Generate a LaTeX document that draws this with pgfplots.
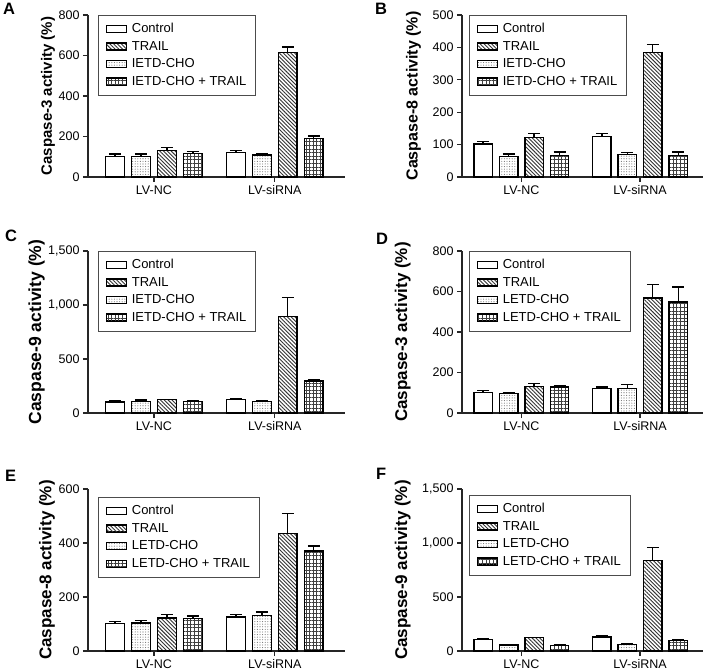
\documentclass[border=0pt]{standalone}
\usepackage{fontspec}
\setmainfont{Liberation Sans}
\usepackage{pgfplots}
\pgfplotsset{compat=1.18}
\usetikzlibrary{patterns.meta}

% bars sit at group centre 0 (LV-NC) and 1 (LV-siRNA) plus a fixed offset per treatment
\pgfplotsset{
  panel/.style={
    scale only axis, height=162pt, ymin=0, clip=false,
    axis x line*=bottom, axis y line*=left,
    axis line style={line width=1.2pt, black!85},
    tick style={line width=1.2pt, black!85},
    tick align=outside, major tick length=5pt,
    xtick={0,1}, xticklabels={LV-NC,LV-siRNA},
    tick label style={font=\fontsize{12.5}{14}\selectfont},
    /pgf/number format/assume math mode=true,
    /pgf/number format/1000 sep={,},
    scaled y ticks=false,
    ylabel style={anchor=south, inner sep=0pt},
    legend cell align=left,
    legend style={anchor=north west, draw=black!70, line width=0.8pt,
      font=\fontsize{13}{15}\selectfont, inner xsep=7pt, inner ysep=6pt, row sep=3pt,
      /tikz/every odd column/.append style={column sep=3pt}},
  },
  leftcol/.style={panel, width=257pt, xmin=-0.545, xmax=1.58},
  rightcol/.style={panel, width=241pt, xmin=-0.5, xmax=1.53},
  ylab/.style 2 args={ylabel style={font=\bfseries\fontsize{#1}{#1}\selectfont,
    at={(axis description cs:#2,0.5)}}},
  boxlegend/.style={legend image code/.code={%
    \draw[##1, line width=1.2pt] (0pt,-3.5pt) rectangle (20pt,3.5pt);}},
  cbar/.style={ybar, bar width=0.155, bar shift=0pt, draw=black, line width=1.4pt, boxlegend,
    /pgfplots/error bars/y dir=plus, /pgfplots/error bars/y explicit,
    /pgfplots/error bars/error bar style={line width=1.3pt, black},
    /pgfplots/error bars/error mark options={rotate=90, mark size=6pt, line width=1.3pt, black}},
  sctl/.style={cbar, fill=white},
  strail/.style={cbar, preaction={fill=white}, pattern color=black!80,
    pattern={Lines[angle=-45,distance=2.7pt,line width=0.9pt]}},
  sinh/.style={cbar, preaction={fill=white}, pattern color=black!55,
    pattern={Dots[distance=2.6pt,radius=0.55pt]}},
  scombo/.style={cbar, preaction={fill=white}, pattern color=black!75,
    pattern={Hatch[angle=0,distance=3.6pt,line width=0.7pt]}},
}

\begin{document}
\begin{tikzpicture}
\useasboundingbox (0,0) rectangle (705pt,-671pt);

% A
\begin{axis}[leftcol, at={(88pt,-177pt)}, anchor=south west,
  ymax=800, ytick={0,200,400,600,800},
  ylabel={Caspase-3 activity (\%)}, ylab={15}{-0.128},
  legend style={at={(axis description cs:0.04,1)}}]
\addplot[sctl] coordinates {(-0.322,102) +- (0,11) (0.678,121) +- (0,10)};
\addplot[strail] coordinates {(0.107,131) +- (0,15) (1.107,616) +- (0,26)};
\addplot[sinh] coordinates {(-0.107,102) +- (0,11) (0.893,108) +- (0,7)};
\addplot[scombo] coordinates {(0.322,115) +- (0,11) (1.322,189) +- (0,13)};
\legend{Control,TRAIL,IETD-CHO,IETD-CHO + TRAIL}
\end{axis}

% B
\begin{axis}[rightcol, at={(462pt,-177pt)}, anchor=south west,
  ymax=500, ytick={0,100,200,300,400,500},
  ylabel={Caspase-8 activity (\%)}, ylab={16}{-0.170},
  legend style={at={(axis description cs:0.03,1)}}]
\addplot[sctl] coordinates {(-0.322,102) +- (0,7) (0.678,125) +- (0,10)};
\addplot[strail] coordinates {(0.107,122) +- (0,13) (1.107,384) +- (0,26)};
\addplot[sinh] coordinates {(-0.107,64) +- (0,7) (0.893,69) +- (0,7)};
\addplot[scombo] coordinates {(0.322,66) +- (0,11) (1.322,67) +- (0,10)};
\legend{Control,TRAIL,IETD-CHO,IETD-CHO + TRAIL}
\end{axis}

% C
\begin{axis}[leftcol, at={(88pt,-413pt)}, anchor=south west,
  ymax=1500, ytick={0,500,1000,1500},
  ylabel={Caspase-9 activity (\%)}, ylab={17.5}{-0.167},
  legend style={at={(axis description cs:0.04,1)}}]
\addplot[sctl] coordinates {(-0.322,101) +- (0,16) (0.678,123) +- (0,9)};
\addplot[strail] coordinates {(0.107,123) +- (0,3) (1.107,891) +- (0,176)};
\addplot[sinh] coordinates {(-0.107,108) +- (0,12) (0.893,108) +- (0,6)};
\addplot[scombo] coordinates {(0.322,105) +- (0,9) (1.322,298) +- (0,10)};
\legend{Control,TRAIL,IETD-CHO,IETD-CHO + TRAIL}
\end{axis}

% D
\begin{axis}[rightcol, at={(462pt,-413pt)}, anchor=south west,
  ymax=800, ytick={0,200,400,600,800},
  ylabel={Caspase-3 activity (\%)}, ylab={17}{-0.212},
  legend style={at={(axis description cs:0.03,1)}}]
\addplot[sctl] coordinates {(-0.322,102) +- (0,9) (0.678,120) +- (0,9)};
\addplot[strail] coordinates {(0.107,132) +- (0,13) (1.107,568) +- (0,67)};
\addplot[sinh] coordinates {(-0.107,96) +- (0,5) (0.893,120) +- (0,20)};
\addplot[scombo] coordinates {(0.322,129) +- (0,8) (1.322,548) +- (0,74)};
\legend{Control,TRAIL,LETD-CHO,LETD-CHO + TRAIL}
\end{axis}

% E
\begin{axis}[leftcol, at={(88pt,-651pt)}, anchor=south west,
  ymax=600, ytick={0,200,400,600},
  ylabel={Caspase-8 activity (\%)}, ylab={17}{-0.128},
  legend style={at={(axis description cs:0.04,0.95)}}]
\addplot[sctl] coordinates {(-0.322,102) +- (0,6) (0.678,126) +- (0,9)};
\addplot[strail] coordinates {(0.107,122) +- (0,13) (1.107,436) +- (0,73)};
\addplot[sinh] coordinates {(-0.107,104) +- (0,10) (0.893,132) +- (0,12)};
\addplot[scombo] coordinates {(0.322,120) +- (0,10) (1.322,371) +- (0,18)};
\legend{Control,TRAIL,LETD-CHO,LETD-CHO + TRAIL}
\end{axis}

% F
\begin{axis}[rightcol, at={(462pt,-651pt)}, anchor=south west,
  ymax=1500, ytick={0,500,1000,1500},
  ylabel={Caspase-9 activity (\%)}, ylab={17}{-0.212},
  legend style={at={(axis description cs:0.03,0.963)}}]
\addplot[sctl] coordinates {(-0.322,107) +- (0,9) (0.678,128) +- (0,12)};
\addplot[strail] coordinates {(0.107,125) +- (0,3) (1.107,836) +- (0,122)};
\addplot[sinh] coordinates {(-0.107,55) +- (0,6) (0.893,61) +- (0,6)};
\addplot[scombo] coordinates {(0.322,52) +- (0,6) (1.322,95) +- (0,9)};
\legend{Control,TRAIL,LETD-CHO,LETD-CHO + TRAIL}
\end{axis}

\foreach \lab/\px/\py in {A/3/3, B/375/3, C/5/230, D/376/233, E/5/470, F/376/468}
  \node[anchor=north west, inner sep=0pt, font=\bfseries\fontsize{16.5}{18}\selectfont] at (\px pt,-\py pt) {\lab};
\end{tikzpicture}
\end{document}
